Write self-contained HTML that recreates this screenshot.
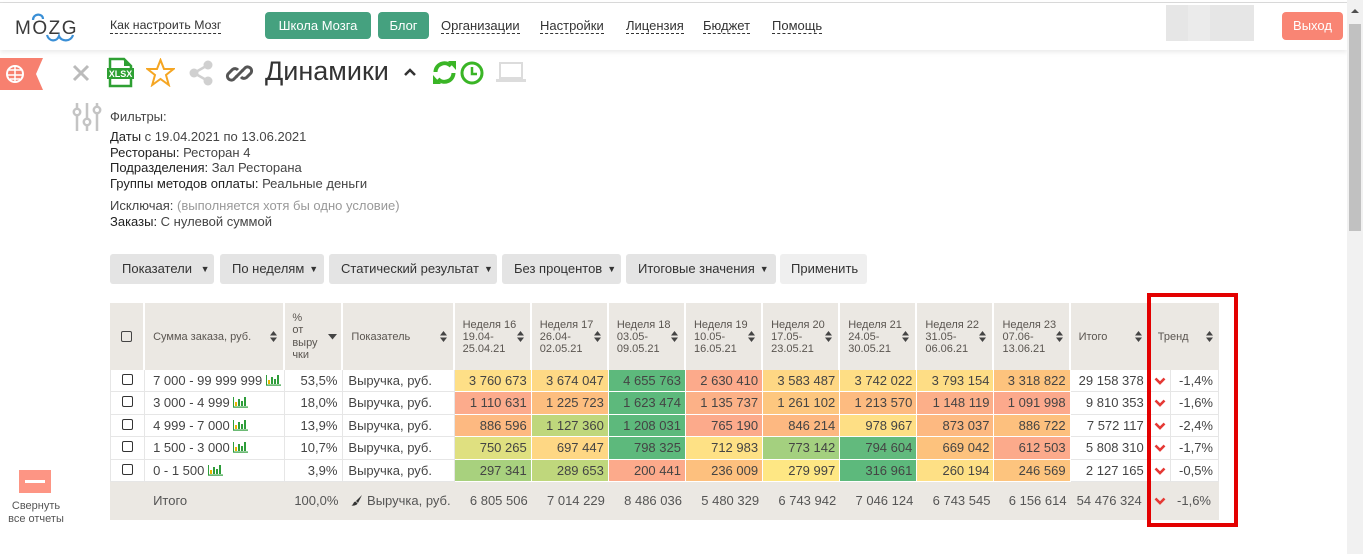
<!DOCTYPE html>
<html><head><meta charset="utf-8">
<style>
*{box-sizing:border-box;margin:0;padding:0}
html,body{width:1363px;height:554px;overflow:hidden;background:#fff;font-family:"Liberation Sans",Arial,sans-serif;color:#333}
.a{position:absolute}
.nav{position:absolute;top:18px;font-size:13px;line-height:15px;color:#333;border-bottom:1px dashed #333;white-space:nowrap}
.gb{position:absolute;top:12px;height:27px;background:#45a17f;color:#fff;border-radius:4px;font-size:13px;line-height:27px;text-align:center}
.fl{position:absolute;left:110px;font-size:13px;line-height:15.5px;color:#444;white-space:nowrap}
.fl b{font-weight:normal;color:#222}
.btn{position:absolute;top:254px;height:30px;background:#e4e4e4;border-radius:3px;font-size:13px;line-height:30px;color:#333;padding-left:12px;white-space:nowrap}
.btn i{font-style:normal;font-size:9px;margin-left:5px;position:relative;top:-1px}
table{position:absolute;left:110px;top:303px;border-collapse:separate;border-spacing:0;table-layout:fixed;width:1109px;font-size:13px;color:#444}
th{background:#ebe8e3;font-weight:normal;font-size:11px;color:#5a5550;text-align:left;vertical-align:middle;border-right:2px solid #fff;padding:0 8px;position:relative;line-height:12px;height:67px}
th .s{position:absolute;right:6px;top:28px}
td{height:22px;border-bottom:1px solid #e6e6e6;border-right:1px solid #e6e6e6;padding:0 5px;white-space:nowrap;vertical-align:middle;line-height:20px}
td.n{text-align:right;border-right:1px solid #fff;border-bottom:1px solid #fff;padding-right:4px}
td.w{text-align:right;padding-right:5px}
td.c{text-align:center;border-left:1px solid #e6e6e6}
td.t{text-align:right;padding-right:5px}
td.r{padding-left:8px}
td.ar{text-align:center;padding:0}
tr.tot td{background:#ebe8e3;border:none;height:38px;color:#555}
.cb{display:inline-block;width:11px;height:11px;border:1px solid #333;border-radius:2px;vertical-align:middle;position:relative;top:-2px}
</style></head><body>

<!-- top line -->
<div class="a" style="left:0;top:2px;width:1347px;height:1px;background:#dcdcdc"></div>
<!-- header -->
<div class="a" style="left:0;top:3px;width:1347px;height:47px;background:#fff;box-shadow:0 2px 5px rgba(0,0,0,.09)"></div>

<!-- logo -->
<svg class="a" style="left:13px;top:10px" width="66" height="34" viewBox="0 0 66 34">
  <text x="2" y="24" font-family="Liberation Sans" font-size="19" fill="#3a3a3a" letter-spacing="1.5">MOZG</text>
  <path d="M20 10 C20 3,30 3,30 9" fill="none" stroke="#3a8fd6" stroke-width="2.2"/>
  <path d="M34 25 C36 32,44 32,46 26 C48 32,58 32,60 25" fill="none" stroke="#3a8fd6" stroke-width="2.2"/>
</svg>

<div class="nav" style="left:110px;font-size:12.3px">Как настроить Мозг</div>
<div class="gb" style="left:265px;width:106px">Школа Мозга</div>
<div class="gb" style="left:378px;width:51px">Блог</div>
<div class="nav" style="left:441px">Организации</div>
<div class="nav" style="left:540px">Настройки</div>
<div class="nav" style="left:626px">Лицензия</div>
<div class="nav" style="left:703px">Бюджет</div>
<div class="nav" style="left:772px">Помощь</div>

<div class="a" style="left:1166px;top:5px;width:88px;height:36px;background:#e6e6e6"></div>
<div class="a" style="left:1188px;top:5px;width:22px;height:36px;background:#ebebeb"></div>
<div class="a" style="left:1282px;top:12px;width:61px;height:28px;background:#f98574;border-radius:4px;color:#fff;font-size:13px;line-height:28px;text-align:center">Выход</div>

<!-- scrollbar -->
<div class="a" style="left:1347px;top:0;width:16px;height:554px;background:#f1f1f1"></div>
<div class="a" style="left:1351px;top:9px;width:0;height:0;border-left:4px solid transparent;border-right:4px solid transparent;border-bottom:4px solid #505050"></div>
<div class="a" style="left:1349px;top:24px;width:12px;height:207px;background:#c1c1c1"></div>

<!-- ribbon -->
<svg class="a" style="left:0;top:58px" width="44" height="33" viewBox="0 0 44 33">
  <polygon points="0,0 43,0 36,16 43,32 0,32" fill="#f7806f"/>
  <circle cx="15" cy="16" r="8" fill="none" stroke="#fff" stroke-width="2"/>
  <path d="M15 8 V24 M9 12 H21 M8 17 H22 M10 21 H20" stroke="#fff" stroke-width="1.5"/>
</svg>

<!-- x -->
<svg class="a" style="left:72px;top:64px" width="18" height="18" viewBox="0 0 18 18"><path d="M2 2 L16 16 M16 2 L2 16" stroke="#bbb" stroke-width="3"/></svg>
<!-- xlsx -->
<svg class="a" style="left:106px;top:57px" width="29" height="31" viewBox="0 0 29 31">
  <path d="M4 2 H18 L25 9 V29 H4 Z" fill="#fff" stroke="#2ea033" stroke-width="2.5"/>
  <path d="M18 2 V9 H25" fill="#2ea033"/>
  <rect x="1" y="11" width="27" height="11" fill="#2ea033"/>
  <text x="14.5" y="20" font-family="Liberation Sans" font-size="9" font-weight="bold" fill="#fff" text-anchor="middle">XLSX</text>
</svg>
<!-- star -->
<svg class="a" style="left:146px;top:58px" width="29" height="29" viewBox="0 0 29 29">
  <polygon points="14.5,2 18,11 27.5,11 20,17 22.8,27 14.5,21 6.2,27 9,17 1.5,11 11,11" fill="none" stroke="#f5a623" stroke-width="2"/>
</svg>
<!-- share -->
<svg class="a" style="left:187px;top:59px" width="28" height="28" viewBox="0 0 28 28">
  <path d="M21 6 L7 14 L21 22" stroke="#d0d0d0" stroke-width="2.5" fill="none"/>
  <circle cx="21" cy="6" r="4.5" fill="#d0d0d0"/><circle cx="7" cy="14" r="4.5" fill="#d0d0d0"/><circle cx="21" cy="22" r="4.5" fill="#d0d0d0"/>
</svg>
<!-- link -->
<svg class="a" style="left:225px;top:59px" width="29" height="29" viewBox="0 0 29 29">
  <g fill="none" stroke="#555" stroke-width="3">
    <path d="M12 17 L8.5 20.5 A4 4 0 0 1 3 15 L7.5 10.5 A4 4 0 0 1 13 11"/>
    <path d="M17 12 L20.5 8.5 A4 4 0 0 1 26 14 L21.5 18.5 A4 4 0 0 1 16 18"/>
    <path d="M11 18 L18 11"/>
  </g>
</svg>
<div class="a" style="left:265px;top:55px;font-size:27px;line-height:32px;color:#333">Динамики</div>
<svg class="a" style="left:403px;top:67px" width="14" height="10" viewBox="0 0 14 10"><path d="M2 8 L7 3 L12 8" stroke="#333" stroke-width="2.5" fill="none"/></svg>
<!-- refresh -->
<svg class="a" style="left:431px;top:59px" width="27" height="27" viewBox="0 0 27 27">
  <g fill="none" stroke="#3ab526" stroke-width="4">
    <path d="M4.5 13 A9 9 0 0 1 20 7"/>
    <path d="M22.5 14 A9 9 0 0 1 7 20"/>
  </g>
  <polygon points="17,2 25,2 25,11" fill="#3ab526"/>
  <polygon points="10,25 2,25 2,16" fill="#3ab526"/>
</svg>
<!-- clock -->
<svg class="a" style="left:459px;top:60px" width="26" height="26" viewBox="0 0 26 26">
  <circle cx="13" cy="13" r="10" fill="none" stroke="#3ab526" stroke-width="3"/>
  <path d="M13 7 V14 H18" stroke="#3ab526" stroke-width="2.5" fill="none"/>
</svg>
<!-- laptop -->
<svg class="a" style="left:496px;top:61px" width="30" height="22" viewBox="0 0 30 22">
  <rect x="4" y="2" width="22" height="15" fill="none" stroke="#dcdcdc" stroke-width="2"/>
  <rect x="0" y="18" width="30" height="3" fill="#dcdcdc"/>
</svg>

<!-- filters icon -->
<svg class="a" style="left:72px;top:102px" width="30" height="30" viewBox="0 0 30 30">
  <g stroke="#c4c4c4" stroke-width="2.5" fill="#fff">
    <path d="M5 1 V29 M15 1 V29 M25 1 V29"/>
    <circle cx="5" cy="10" r="3.2"/><circle cx="15" cy="20" r="3.2"/><circle cx="25" cy="8" r="3.2"/>
  </g>
</svg>

<div class="fl" style="top:109px">Фильтры:</div>
<div class="fl" style="top:129px"><b>Даты</b> с 19.04.2021 по 13.06.2021<br><b>Рестораны:</b> Ресторан 4<br><b>Подразделения:</b> Зал Ресторана<br><b>Группы методов оплаты:</b> Реальные деньги</div>
<div class="fl" style="top:198px">Исключая: <span style="color:#999">(выполняется хотя бы одно условие)</span><br><b>Заказы:</b> С нулевой суммой</div>

<div class="btn" style="left:110px;width:104px">Показатели <i>▼</i></div>
<div class="btn" style="left:220px;width:104px">По неделям<i>▼</i></div>
<div class="btn" style="left:329px;width:168px">Статический результат<i>▼</i></div>
<div class="btn" style="left:502px;width:119px">Без процентов<i>▼</i></div>
<div class="btn" style="left:626px;width:150px">Итоговые значения<i>▼</i></div>
<div class="btn" style="left:780px;width:87px;background:#efefef;padding-left:11px">Применить</div>

<table>
<colgroup>
<col style="width:35px"><col style="width:140px"><col style="width:58px"><col style="width:111px">
<col style="width:77px"><col style="width:77px"><col style="width:77px"><col style="width:77px">
<col style="width:77px"><col style="width:77px"><col style="width:77px"><col style="width:76px">
<col style="width:79px"><col style="width:21px"><col style="width:48px">
</colgroup>
<tr>
<th style="text-align:center;padding:0"><span class="cb" style="top:0;border-color:#444"></span></th>
<th style="font-size:11px">Сумма заказа, руб.<svg class="s" width="7" height="11"><path d="M3.5 0L7 4.5H0Z M3.5 11L7 6.5H0Z" fill="#444"/></svg></th>
<th style="padding-left:7px;line-height:12.5px">%<br>от<br>выру<br>чки<svg class="s" style="top:31px;right:4px" width="9" height="6"><path d="M0 0H9L4.5 5.5Z" fill="#444"/></svg></th>
<th>Показатель<svg class="s" width="7" height="11"><path d="M3.5 0L7 4.5H0Z M3.5 11L7 6.5H0Z" fill="#444"/></svg></th>
<th>Неделя 16<br>19.04-<br>25.04.21<svg class="s" width="7" height="11"><path d="M3.5 0L7 4.5H0Z M3.5 11L7 6.5H0Z" fill="#444"/></svg></th>
<th>Неделя 17<br>26.04-<br>02.05.21<svg class="s" width="7" height="11"><path d="M3.5 0L7 4.5H0Z M3.5 11L7 6.5H0Z" fill="#444"/></svg></th>
<th>Неделя 18<br>03.05-<br>09.05.21<svg class="s" width="7" height="11"><path d="M3.5 0L7 4.5H0Z M3.5 11L7 6.5H0Z" fill="#444"/></svg></th>
<th>Неделя 19<br>10.05-<br>16.05.21<svg class="s" width="7" height="11"><path d="M3.5 0L7 4.5H0Z M3.5 11L7 6.5H0Z" fill="#444"/></svg></th>
<th>Неделя 20<br>17.05-<br>23.05.21<svg class="s" width="7" height="11"><path d="M3.5 0L7 4.5H0Z M3.5 11L7 6.5H0Z" fill="#444"/></svg></th>
<th>Неделя 21<br>24.05-<br>30.05.21<svg class="s" width="7" height="11"><path d="M3.5 0L7 4.5H0Z M3.5 11L7 6.5H0Z" fill="#444"/></svg></th>
<th>Неделя 22<br>31.05-<br>06.06.21<svg class="s" width="7" height="11"><path d="M3.5 0L7 4.5H0Z M3.5 11L7 6.5H0Z" fill="#444"/></svg></th>
<th>Неделя 23<br>07.06-<br>13.06.21<svg class="s" width="7" height="11"><path d="M3.5 0L7 4.5H0Z M3.5 11L7 6.5H0Z" fill="#444"/></svg></th>
<th>Итого<svg class="s" width="7" height="11"><path d="M3.5 0L7 4.5H0Z M3.5 11L7 6.5H0Z" fill="#444"/></svg></th>
<th colspan="2" style="border-right:none">Тренд<svg class="s" width="7" height="11"><path d="M3.5 0L7 4.5H0Z M3.5 11L7 6.5H0Z" fill="#444"/></svg></th>
</tr>

<tr style="height:22px">
<td class="c"><span class="cb"></span></td>
<td class="r">7 000 - 99 999 999 <svg width="15" height="12" style="vertical-align:-1px"><rect x="2" y="6" width="2" height="4" fill="#e8b400"/><rect x="5" y="3" width="2" height="7" fill="#2e9d3a"/><rect x="8" y="5" width="2" height="5" fill="#2e9d3a"/><rect x="11" y="1" width="2" height="9" fill="#2e9d3a"/><rect x="0" y="10.5" width="15" height="1.2" fill="#2e9d3a"/><rect x="0" y="1" width="1" height="10" fill="#2e9d3a"/></svg></td>
<td class="t">53,5%</td><td>Выручка, руб.</td>
<td class="n" style="background:#fedf87">3 760 673</td><td class="n" style="background:#fed985">3 674 047</td><td class="n" style="background:#5db97c">4 655 763</td><td class="n" style="background:#fcaa8b">2 630 410</td><td class="n" style="background:#fed784">3 583 487</td><td class="n" style="background:#fede85">3 742 022</td><td class="n" style="background:#fedd85">3 793 154</td><td class="n" style="background:#fdc37d">3 318 822</td>
<td class="w">29 158 378</td>
<td class="ar"><svg width="12" height="8"><path d="M1.5 1.5L6 6L10.5 1.5" stroke="#e53935" stroke-width="2.6" fill="none"/></svg></td>
<td class="t">-1,4%</td>
</tr>

<tr style="height:23px">
<td class="c"><span class="cb"></span></td>
<td class="r">3 000 - 4 999 <svg width="15" height="12" style="vertical-align:-1px"><rect x="2" y="6" width="2" height="4" fill="#e8b400"/><rect x="5" y="3" width="2" height="7" fill="#2e9d3a"/><rect x="8" y="5" width="2" height="5" fill="#2e9d3a"/><rect x="11" y="1" width="2" height="9" fill="#2e9d3a"/><rect x="0" y="10.5" width="15" height="1.2" fill="#2e9d3a"/><rect x="0" y="1" width="1" height="10" fill="#2e9d3a"/></svg></td>
<td class="t">18,0%</td><td>Выручка, руб.</td>
<td class="n" style="background:#fcab8c">1 110 631</td><td class="n" style="background:#fdbe7f">1 225 723</td><td class="n" style="background:#5db97c">1 623 474</td><td class="n" style="background:#fcb187">1 135 737</td><td class="n" style="background:#fdc77f">1 261 102</td><td class="n" style="background:#fdbb80">1 213 570</td><td class="n" style="background:#fcaf89">1 148 119</td><td class="n" style="background:#fca98c">1 091 998</td>
<td class="w">9 810 353</td>
<td class="ar"><svg width="12" height="8"><path d="M1.5 1.5L6 6L10.5 1.5" stroke="#e53935" stroke-width="2.6" fill="none"/></svg></td>
<td class="t">-1,6%</td>
</tr>

<tr style="height:22px">
<td class="c"><span class="cb"></span></td>
<td class="r">4 999 - 7 000 <svg width="15" height="12" style="vertical-align:-1px"><rect x="2" y="6" width="2" height="4" fill="#e8b400"/><rect x="5" y="3" width="2" height="7" fill="#2e9d3a"/><rect x="8" y="5" width="2" height="5" fill="#2e9d3a"/><rect x="11" y="1" width="2" height="9" fill="#2e9d3a"/><rect x="0" y="10.5" width="15" height="1.2" fill="#2e9d3a"/><rect x="0" y="1" width="1" height="10" fill="#2e9d3a"/></svg></td>
<td class="t">13,9%</td><td>Выручка, руб.</td>
<td class="n" style="background:#fdb981">886 596</td><td class="n" style="background:#bfd77c">1 127 360</td><td class="n" style="background:#5db97c">1 208 031</td><td class="n" style="background:#fcaa8b">765 190</td><td class="n" style="background:#fdb881">846 214</td><td class="n" style="background:#fedf85">978 967</td><td class="n" style="background:#fdb981">873 037</td><td class="n" style="background:#fdc07e">886 722</td>
<td class="w">7 572 117</td>
<td class="ar"><svg width="12" height="8"><path d="M1.5 1.5L6 6L10.5 1.5" stroke="#e53935" stroke-width="2.6" fill="none"/></svg></td>
<td class="t">-2,4%</td>
</tr>

<tr style="height:23px">
<td class="c"><span class="cb"></span></td>
<td class="r">1 500 - 3 000 <svg width="15" height="12" style="vertical-align:-1px"><rect x="2" y="6" width="2" height="4" fill="#e8b400"/><rect x="5" y="3" width="2" height="7" fill="#2e9d3a"/><rect x="8" y="5" width="2" height="5" fill="#2e9d3a"/><rect x="11" y="1" width="2" height="9" fill="#2e9d3a"/><rect x="0" y="10.5" width="15" height="1.2" fill="#2e9d3a"/><rect x="0" y="1" width="1" height="10" fill="#2e9d3a"/></svg></td>
<td class="t">10,7%</td><td>Выручка, руб.</td>
<td class="n" style="background:#dfe080">750 265</td><td class="n" style="background:#fed784">697 447</td><td class="n" style="background:#5db97c">798 325</td><td class="n" style="background:#fee185">712 983</td><td class="n" style="background:#a4d07f">773 142</td><td class="n" style="background:#62ba7d">794 604</td><td class="n" style="background:#fdc27d">669 042</td><td class="n" style="background:#fcaa8b">612 503</td>
<td class="w">5 808 310</td>
<td class="ar"><svg width="12" height="8"><path d="M1.5 1.5L6 6L10.5 1.5" stroke="#e53935" stroke-width="2.6" fill="none"/></svg></td>
<td class="t">-1,7%</td>
</tr>

<tr style="height:22px">
<td class="c"><span class="cb"></span></td>
<td class="r">0 - 1 500 <svg width="15" height="12" style="vertical-align:-1px"><rect x="2" y="6" width="2" height="4" fill="#e8b400"/><rect x="5" y="3" width="2" height="7" fill="#2e9d3a"/><rect x="8" y="5" width="2" height="5" fill="#2e9d3a"/><rect x="11" y="1" width="2" height="9" fill="#2e9d3a"/><rect x="0" y="10.5" width="15" height="1.2" fill="#2e9d3a"/><rect x="0" y="1" width="1" height="10" fill="#2e9d3a"/></svg></td>
<td class="t">3,9%</td><td>Выручка, руб.</td>
<td class="n" style="background:#a8d17e">297 341</td><td class="n" style="background:#bfd77c">289 653</td><td class="n" style="background:#fcaa8b">200 441</td><td class="n" style="background:#fdc07e">236 009</td><td class="n" style="background:#fee784">279 997</td><td class="n" style="background:#5db97c">316 961</td><td class="n" style="background:#fee085">260 194</td><td class="n" style="background:#fdc47e">246 569</td>
<td class="w">2 127 165</td>
<td class="ar"><svg width="12" height="8"><path d="M1.5 1.5L6 6L10.5 1.5" stroke="#e53935" stroke-width="2.6" fill="none"/></svg></td>
<td class="t">-0,5%</td>
</tr>

<tr class="tot">
<td></td>
<td style="padding-left:8px">Итого</td>
<td class="t">100,0%</td>
<td style="padding-left:8px"><svg width="12" height="12" style="vertical-align:-1px"><path d="M11 1 L5 7 L7 9 Z" fill="#333"/><path d="M4.5 7.5 C2 8,3 10,0.5 11.5 C3 12,6 11,6.5 9.5 Z" fill="#333"/></svg> Выручка, руб.</td>
<td class="t" style="padding-right:4px">6 805 506</td><td class="t" style="padding-right:4px">7 014 229</td><td class="t" style="padding-right:4px">8 486 036</td><td class="t" style="padding-right:4px">5 480 329</td><td class="t" style="padding-right:4px">6 743 942</td><td class="t" style="padding-right:4px">7 046 124</td><td class="t" style="padding-right:4px">6 743 545</td><td class="t" style="padding-right:4px">6 156 614</td>
<td class="t" style="padding-right:8px">54 476 324</td>
<td class="ar"><svg width="12" height="8"><path d="M1.5 1.5L6 6L10.5 1.5" stroke="#e53935" stroke-width="2.6" fill="none"/></svg></td>
<td class="t" style="padding-right:8px">-1,6%</td>
</tr>
</table>

<!-- red annotation box -->
<div class="a" style="left:1147px;top:293px;width:91px;height:234px;border:4px solid #e30000"></div>

<!-- collapse all -->
<div class="a" style="left:19px;top:470px;width:32px;height:23px;background:#fd9584"></div>
<div class="a" style="left:25px;top:480px;width:20px;height:3px;background:#fff"></div>
<div class="a" style="left:0;top:500px;width:72px;text-align:center;font-size:11px;line-height:12.5px;color:#555">Свернуть<br>все отчеты</div>

</body></html>
